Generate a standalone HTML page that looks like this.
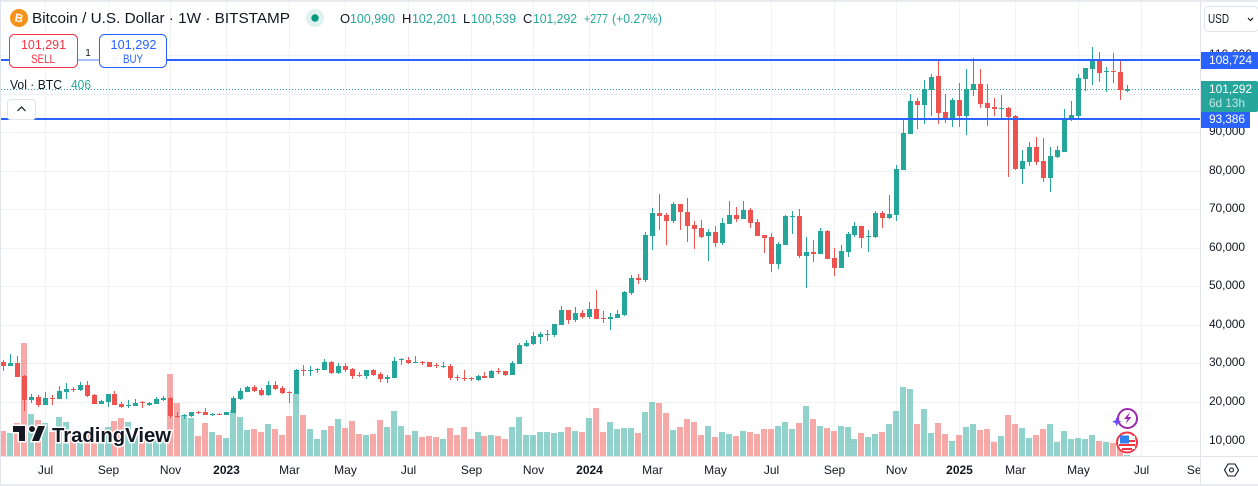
<!DOCTYPE html>
<html lang="en">
<head>
<meta charset="utf-8">
<title>Bitcoin / U.S. Dollar weekly chart</title>
<style>
html,body{margin:0;padding:0;background:#fff;width:1258px;height:486px;overflow:hidden}
svg{display:block}
text{font-family:"Liberation Sans",sans-serif;fill:#131722}
</style>
</head>
<body>
<svg id="chart" xmlns="http://www.w3.org/2000/svg" width="1258" height="486" viewBox="0 0 1258 486">
  <defs>
    <clipPath id="pane-clip"><rect x="0" y="0" width="1200" height="456"/></clipPath>
    <clipPath id="time-clip"><rect x="0" y="457" width="1200" height="27"/></clipPath>
  </defs>
  <g id="grid-layer"></g>
  <g id="volume-layer" clip-path="url(#pane-clip)"></g>
  <g id="candle-layer" clip-path="url(#pane-clip)"></g>
  <g id="level-layer"></g>

  <g>
    <path transform="translate(11,420)" d="M14 6H2v6h6v9h6V6zm14 15h-7l6-15h7l-6 15zm-7-9a3 3 0 1 0 0-6 3 3 0 0 0 0 6z" fill="#131722" stroke="#fff" stroke-width="3" paint-order="stroke"/>
    <text x="52" y="442" font-size="20" font-weight="700" textLength="119" lengthAdjust="spacingAndGlyphs" stroke="#fff" stroke-width="3" paint-order="stroke">TradingView</text>
  </g>

  <g>
    <circle cx="1127.5" cy="418.5" r="9.5" fill="#fff" stroke="#9c27b0" stroke-width="2"/>
    <path d="M1130 412l-6 7h3.5l-2 5 6-7h-3.5z" fill="#9c27b0"/>
    <path d="M1116.7 417l1.3 3.4 3.4 1.3-3.4 1.3-1.3 3.4-1.3-3.4-3.4-1.3 3.4-1.3z" fill="#6b4dff"/>
  </g>
  <g>
    <circle cx="1127" cy="442.5" r="10" fill="#fff" stroke="#f23645" stroke-width="2"/>
    <rect x="1120" y="436" width="15" height="13" fill="#fff"/>
    <rect x="1129" y="440" width="6" height="2" fill="#f23645"/>
    <rect x="1119" y="444" width="16" height="2" fill="#f23645"/>
    <rect x="1122" y="448" width="10" height="2" fill="#f23645"/>
    <rect x="1120" y="435.5" width="9" height="8" fill="#2f80ed"/>
  </g>

  <rect x="0" y="0" width="1258" height="2" fill="#e8eaef"/>
  <rect x="0" y="0" width="1" height="486" fill="#e0e3eb"/>
  <rect x="0" y="484" width="1258" height="2" fill="#e8eaef"/>
  <rect x="0" y="456" width="1258" height="1" fill="#e0e3eb"/>
  <rect x="1200" y="2" width="1" height="482" fill="#e0e3eb"/>

  <g id="price-axis"></g>
  <g id="time-axis" clip-path="url(#time-clip)"></g>
  <g id="level-label-layer"></g>

  <g>
    <circle cx="19" cy="18" r="9" fill="#f7931a"/>
    <text x="19" y="22" font-size="11.5" font-weight="700" text-anchor="middle" transform="rotate(12 19 18)" style="fill:#fff">B</text>
    <text x="32" y="23" font-size="15" textLength="258" lengthAdjust="spacingAndGlyphs">Bitcoin / U.S. Dollar · 1W · BITSTAMP</text>
    <circle cx="315" cy="18" r="9" fill="#dff2ef"/>
    <circle cx="315" cy="18" r="3.7" fill="#089981"/>
    <g font-size="13">
      <text x="340" y="23">O</text>
      <text x="350" y="23" textLength="45" lengthAdjust="spacingAndGlyphs" style="fill:#26a69a">100,990</text>
      <text x="402" y="23">H</text>
      <text x="412" y="23" textLength="45" lengthAdjust="spacingAndGlyphs" style="fill:#26a69a">102,201</text>
      <text x="463" y="23">L</text>
      <text x="471" y="23" textLength="45" lengthAdjust="spacingAndGlyphs" style="fill:#26a69a">100,539</text>
      <text x="523" y="23">C</text>
      <text x="533" y="23" textLength="44" lengthAdjust="spacingAndGlyphs" style="fill:#26a69a">101,292</text>
      <text x="584" y="23" textLength="24" lengthAdjust="spacingAndGlyphs" style="fill:#26a69a">+277</text>
      <text x="612" y="23" textLength="50" lengthAdjust="spacingAndGlyphs" style="fill:#26a69a">(+0.27%)</text>
    </g>
  </g>

  <rect x="78" y="59" width="21" height="2" fill="#a9c0ff"/>
  <rect x="80" y="46" width="17" height="12" fill="#fff"/>
  <text x="88" y="56" font-size="10" text-anchor="middle">1</text>
  <g>
    <rect x="9.5" y="34.5" width="68" height="33" rx="5" fill="#fff" stroke="#f23645"/>
    <text x="21" y="49" font-size="13" textLength="45" lengthAdjust="spacingAndGlyphs" style="fill:#f23645">101,291</text>
    <text x="31" y="63" font-size="12" textLength="24" lengthAdjust="spacingAndGlyphs" style="fill:#f23645">SELL</text>
  </g>
  <g>
    <rect x="99.5" y="34.5" width="67" height="33" rx="5" fill="#fff" stroke="#2962ff"/>
    <text x="110.5" y="49" font-size="13" textLength="46" lengthAdjust="spacingAndGlyphs" style="fill:#2962ff">101,292</text>
    <text x="123" y="63" font-size="12" textLength="20" lengthAdjust="spacingAndGlyphs" style="fill:#2962ff">BUY</text>
  </g>

  <g>
    <text x="10" y="89" font-size="13" textLength="52" lengthAdjust="spacingAndGlyphs">Vol · BTC</text>
    <text x="71" y="89" font-size="13" textLength="20" lengthAdjust="spacingAndGlyphs" style="fill:#26a69a">406</text>
  </g>
  <g>
    <rect x="7.5" y="99.5" width="28" height="20" rx="3" fill="#fff" stroke="#e0e3eb"/>
    <path d="M17.5 111l4-4 4 4" fill="none" stroke="#131722" stroke-width="1.2"/>
  </g>

  <g>
    <rect x="1204.5" y="6.5" width="54" height="25" rx="4" fill="#fff" stroke="#e0e3eb"/>
    <text x="1208" y="23" font-size="13" textLength="21" lengthAdjust="spacingAndGlyphs">USD</text>
    <path d="M1248 18l2.5 2.5 2.5-2.5" fill="none" stroke="#131722" stroke-width="1.2"/>
  </g>
  <g>
    <path d="M1224.5 470l3.5-6h7l3.5 6-3.5 6h-7z" fill="none" stroke="#131722" stroke-width="1.1"/>
    <circle cx="1231.5" cy="470" r="2" fill="none" stroke="#131722" stroke-width="1.1"/>
  </g>
</svg>
<script>
// Weekly OHLC in thousands of USD
const opens = [
30.4,29.3,30.1,26.7,20.5,21.3,19.2,21.0,20.8,22.6,
23.4,23.1,24.4,21.8,19.5,20.0,22.1,19.5,18.9,18.9,
20.0,19.2,19.5,20.5,21.0,16.4,16.4,16.4,17.4,17.4,
16.7,16.9,16.6,17.1,20.8,22.6,23.9,23.1,21.8,24.4,
23.6,22.7,22.1,28.3,28.0,28.3,28.3,30.4,27.5,29.3,
28.6,27.0,26.7,28.3,27.3,26.0,26.2,30.9,30.9,30.1,
30.4,30.4,29.6,29.1,29.3,26.5,26.2,26.2,25.7,26.7,
26.2,28.0,28.0,27.0,29.9,34.5,35.0,36.9,37.4,37.4,
40.0,43.9,41.3,43.1,42.0,44.1,41.8,41.5,41.8,42.6,
48.3,52.2,51.6,63.1,69.0,68.5,66.9,71.4,69.3,65.9,
65.1,63.0,64.1,61.2,66.2,68.5,67.5,69.8,66.7,63.3,
62.8,55.8,60.7,68.0,68.2,57.9,58.9,58.4,64.3,57.4,
54.8,58.9,63.3,65.6,62.8,62.8,69.0,67.7,68.5,80.2,
89.5,98.1,97.0,100.9,104.6,95.2,93.4,98.3,94.2,100.9,
102.5,97.6,96.5,96.0,96.2,94.2,80.4,82.2,86.1,82.5,
78.1,83.5,84.8,93.4,94.2,103.8,106.4,109.0,105.6,105.8,105.6,100.7];
const highs = [
30.9,32.4,31.9,27.0,22.1,21.8,22.6,21.8,24.1,24.9,
23.9,25.2,25.4,22.1,20.5,22.1,22.8,20.0,20.5,20.8,
20.2,20.0,21.3,21.5,21.3,17.4,16.9,17.4,17.7,18.4,
17.1,17.1,17.4,21.5,23.6,24.1,24.4,23.6,25.4,25.4,
24.1,22.8,28.6,29.6,29.3,28.8,31.2,30.6,30.1,30.1,
28.8,27.8,28.3,28.6,27.8,27.0,31.7,31.4,31.7,31.9,
30.6,30.4,30.1,30.4,29.9,27.0,28.3,26.5,27.0,27.8,
28.3,28.8,28.0,30.6,35.3,36.1,38.2,38.2,38.7,40.2,
44.9,43.9,44.6,43.9,45.9,49.0,43.6,43.1,43.9,48.8,
52.9,53.2,64.1,70.3,74.0,69.0,71.9,71.4,72.9,66.9,
67.2,64.9,65.6,67.7,72.1,70.6,72.1,70.3,67.5,63.3,
63.8,61.5,68.5,69.5,70.1,62.8,62.0,65.1,64.6,60.0,
60.7,64.1,66.7,65.6,64.6,69.5,69.5,73.7,81.5,93.4,
99.9,98.8,103.5,105.1,108.4,99.9,98.8,102.7,106.4,109.2,
106.4,102.5,98.8,99.6,96.5,94.4,85.4,87.4,88.7,88.5,
86.1,86.4,96.0,98.1,105.1,106.6,112.1,110.8,106.9,110.5,109.0,102.2];
const lows = [
28.0,29.3,26.5,17.7,19.7,18.7,19.2,19.2,20.8,20.8,
22.6,22.8,21.3,19.5,19.5,18.7,19.2,18.4,18.4,18.9,
18.4,18.9,19.5,20.2,15.8,15.8,15.6,16.1,16.9,16.6,
16.4,16.6,16.6,17.1,20.5,22.6,22.6,21.5,21.5,23.1,
22.1,19.7,22.1,26.7,26.7,27.5,28.3,27.3,27.3,27.8,
26.0,26.5,26.0,26.7,25.2,24.9,26.2,29.6,29.9,30.1,
29.6,29.1,28.8,28.8,25.7,25.4,25.4,25.4,25.4,26.2,
26.2,27.3,26.7,27.0,29.9,34.2,34.8,35.0,35.8,36.9,
40.0,40.2,40.8,41.5,41.5,41.5,40.5,38.7,41.8,42.3,
47.7,50.6,51.1,59.4,64.6,60.7,66.4,64.6,61.5,59.7,
62.5,56.6,60.2,60.7,66.2,66.7,67.5,65.1,63.0,58.6,
53.7,54.5,60.7,63.6,57.4,49.6,56.3,58.4,57.1,52.7,
54.8,57.6,62.8,60.0,58.9,62.5,65.1,67.5,66.9,80.2,
89.5,90.8,92.1,94.2,92.1,92.4,91.3,91.3,89.2,99.4,
96.2,91.6,94.2,93.7,78.4,80.2,76.5,81.2,81.5,77.1,
74.5,83.3,84.8,92.9,93.4,100.7,102.2,103.0,100.4,102.7,98.3,100.5];
const closes = [
29.3,30.1,26.5,20.5,21.3,19.2,21.0,20.8,22.8,23.4,
23.1,24.4,21.5,19.5,20.2,22.1,19.2,18.7,19.2,19.7,
19.7,19.7,20.8,21.0,16.4,16.1,16.6,17.4,17.1,16.6,
16.9,16.7,17.4,21.0,22.8,23.9,22.8,21.8,24.4,23.4,
22.3,22.5,28.3,28.0,28.3,28.6,30.4,27.5,29.3,28.3,
26.7,26.7,28.3,27.0,26.0,26.5,30.6,31.2,30.1,30.4,
30.1,29.1,29.3,29.3,26.2,26.2,26.0,26.0,26.7,26.2,
28.0,27.8,27.0,30.1,34.8,35.3,37.1,37.6,37.6,40.2,
43.9,41.3,43.1,42.0,44.1,41.5,41.5,42.0,42.8,48.5,
52.2,51.6,63.3,69.0,68.2,66.9,71.4,69.3,65.6,64.9,
62.8,64.1,61.2,66.4,68.5,67.5,69.8,66.4,63.0,62.5,
55.8,61.0,68.2,68.2,57.9,58.9,58.4,64.3,57.1,54.8,
59.2,63.6,65.6,62.5,63.0,69.0,67.7,68.8,80.4,89.8,
98.1,97.0,101.2,104.3,95.0,93.4,98.3,94.2,101.2,102.5,
97.3,96.2,96.0,96.2,93.9,80.4,82.5,86.1,82.2,78.1,
83.8,85.4,93.7,94.4,104.0,106.6,109.0,105.3,105.8,105.6,101.0,101.3];
// Weekly volume in BTC
const volumes = [
7500,6900,9900,33900,12600,10800,9900,7200,11700,10200,
6300,4800,6300,6900,6300,8700,10500,11400,10200,6300,
6300,6300,6300,6300,24600,15900,12300,11400,6000,9900,
7200,6300,5400,13800,11700,7800,8100,7200,9600,8100,
6300,12000,18600,12300,8100,5100,7800,9000,11100,8400,
10500,6600,6300,6600,10800,8700,13500,9000,6300,7500,
5700,6000,5700,5100,8400,6300,8700,5100,7200,6000,
6300,6000,5100,8700,11700,6300,6300,7200,7200,6900,
7200,8700,7500,7200,11400,14400,7200,10200,8100,8400,
8400,6900,13200,16200,15900,12900,7800,8700,11100,10200,
6300,9000,5700,7200,6600,6000,7500,7200,6600,8100,
8100,9000,10200,8100,9900,15000,11100,9000,8400,7500,
9000,8700,5100,6900,5700,6600,7200,9600,13500,20700,
20100,9600,14100,6900,9900,6600,4500,6300,8700,9600,
7800,8100,4200,6000,12300,9600,8400,5400,6300,8100,
9600,4200,7500,5100,5400,5100,6300,4500,4200,3900,2700,406];
// Axis ticks
const priceTicks = [10,20,30,40,50,60,70,80,90,100,110];
const priceTickLabels = ["10,000","20,000","30,000","40,000","50,000","60,000","70,000","80,000","90,000","","110,000"];
const timeTickBars = [6,15,24,32,41,49,58,67,76,84,93,102,110,119,128,137,145,154,163,171];
const timeTickLabels = ["Jul","Sep","Nov","2023","Mar","May","Jul","Sep","Nov","2024","Mar","May","Jul","Sep","Nov","2025","Mar","May","Jul","Sep"];
// Horizontal levels and last price (thousands of USD)
const levelPrices = [108.724, 93.386];
const levelLabels = ["108,724", "93,386"];
const lastPrice = 101.292;

const SVG_NS = "http://www.w3.org/2000/svg";
const GREEN = "#26a69a", RED = "#ef5350";

function xOf(i){ return Math.floor(3.3 + 6.981 * i); }
function yOf(k){ return 55 + (110 - k) * 3.855; }
function hOf(v){ return v / 300; }
function make(tag, attrs, parent){
  const el = document.createElementNS(SVG_NS, tag);
  for (const key in attrs) el.setAttribute(key, attrs[key]);
  parent.appendChild(el);
  return el;
}

const gridLayer = document.getElementById("grid-layer");
const volumeLayer = document.getElementById("volume-layer");
const candleLayer = document.getElementById("candle-layer");
const levelLayer = document.getElementById("level-layer");
const priceAxis = document.getElementById("price-axis");
const timeAxis = document.getElementById("time-axis");
const levelLabelLayer = document.getElementById("level-label-layer");

priceTicks.forEach(function(k, n){
  const y = Math.round(yOf(k));
  const line = make("rect", {x:0, y:y, width:1200, height:1, fill:"#f1f2f4"}, gridLayer);
  
  
  if (!priceTickLabels[n]) return;
  const label = make("text", {x:1209, y:y + 3, "font-size":12, textLength:priceTickLabels[n].length > 6 ? 43 : 36}, priceAxis);
  
  
  label.textContent = priceTickLabels[n];
});

timeTickBars.forEach(function(bar, n){
  const x = xOf(bar);
  if (x < 1190) {
    const line = make("rect", {x:x, y:2, width:1, height:454, fill:"#f1f2f4"}, gridLayer);
    
    
  }
  const isYear = /^\d+$/.test(timeTickLabels[n]);
  const label = make("text", {x:x + 0.5, y:474, "font-size":12, "text-anchor":"middle", "font-weight":isYear ? 700 : 400}, timeAxis);
  
  
  label.textContent = timeTickLabels[n];
});

volumes.forEach(function(v, i){
  const h = Math.max(1, Math.round(hOf(v)));
  const bar = make("rect", {x:xOf(i) - 3, y:456 - h, width:6, height:h,
    fill:closes[i] < opens[i] ? "rgba(239,83,80,0.5)" : "rgba(38,166,154,0.5)"}, volumeLayer);
  
  
});

const lastLine = make("line", {x1:1, x2:1200, y1:Math.round(yOf(lastPrice)) + 0.5, y2:Math.round(yOf(lastPrice)) + 0.5,
  stroke:GREEN, "stroke-width":1, "stroke-dasharray":"1 2"}, candleLayer);



opens.forEach(function(o, i){
  const c = closes[i];
  const color = c < o ? RED : GREEN;
  const px = xOf(i);
  const group = make("g", {}, candleLayer);
  
  
  const wickTop = Math.round(yOf(highs[i]));
  const wickBottom = Math.round(yOf(lows[i]));
  const wick = make("rect", {x:px, y:wickTop, width:1, height:Math.max(1, wickBottom - wickTop), fill:color}, group);
  
  
  const bodyTop = Math.round(yOf(Math.max(o, c)));
  const bodyBottom = Math.round(yOf(Math.min(o, c)));
  const body = make("rect", {x:px - 2, y:bodyTop, width:5, height:Math.max(1, bodyBottom - bodyTop), fill:color}, group);
  
  
});

levelPrices.forEach(function(k){
  const line = make("rect", {x:1, y:Math.round(yOf(k)) - 1, width:1199, height:2, fill:"#2962ff"}, levelLayer);
  
  
});

levelPrices.forEach(function(k, n){
  const y = Math.round(yOf(k));
  const wide = levelLabels[n].length > 6;
  const box = make("rect", {x:1201, y:y - 8, width:wide ? 57 : 49, height:17, fill:"#2962ff"}, levelLabelLayer);
  
  
  const label = make("text", {x:1209, y:y + 4, "font-size":12, "font-weight":400, textLength:wide ? 43 : 36, style:"fill:#fff"}, levelLabelLayer);
  
  
  label.textContent = levelLabels[n];
});

const lastBox = make("path", {d:"M1201 81H1256a2 2 0 0 1 2 2V110a2 2 0 0 1-2 2H1201z", fill:GREEN}, levelLabelLayer);


const lastLabel = make("text", {x:1209, y:93, "font-size":12, textLength:43, style:"fill:#fff"}, levelLabelLayer);


lastLabel.textContent = "101,292";
const countdown = make("text", {x:1209, y:107, "font-size":12, textLength:36, style:"fill:#fff;fill-opacity:.72"}, levelLabelLayer);


countdown.textContent = "6d 13h";
</script>
</body>
</html>
